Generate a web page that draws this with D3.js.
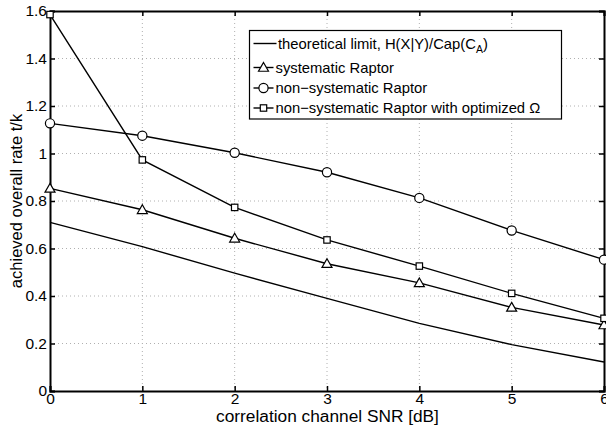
<!DOCTYPE html>
<html>
<head>
<meta charset="utf-8">
<script src="https://cdn.jsdelivr.net/npm/d3@7"></script>
<style>
  body { margin: 0; background: #fff; }
  text { font-family: "Liberation Sans", Arial, sans-serif; fill: #000; }
</style>
</head>
<body>
<script>
const WIDTH = 606;
const HEIGHT = 430;
const MARGIN = { top: 11, right: 1, bottom: 39, left: 50 };

// datos
const snr = [0, 1, 2, 3, 4, 5, 6];
const limiteTeorico = [0.710, 0.608, 0.496, 0.390, 0.285, 0.195, 0.122];
const raptorSistematico = [0.853, 0.763, 0.643, 0.536, 0.455, 0.352, 0.278];
const raptorNoSistematico = [1.127, 1.075, 1.003, 0.921, 0.813, 0.676, 0.553];
const raptorOptimizado = [1.585, 0.973, 0.773, 0.636, 0.526, 0.411, 0.306];

const xTicks = [0, 1, 2, 3, 4, 5, 6];
const yTicks = [0, 0.2, 0.4, 0.6, 0.8, 1, 1.2, 1.4, 1.6];

const series = [
    { nombre: "theoretical limit, H(X|Y)/Cap(C", sub: "A", fin: ")", valores: limiteTeorico, marca: null },
    { nombre: "systematic Raptor", valores: raptorSistematico, marca: "triangle" },
    { nombre: "non\u2212systematic Raptor", valores: raptorNoSistematico, marca: "circle" },
    { nombre: "non\u2212systematic Raptor with optimized \u03A9", valores: raptorOptimizado, marca: "square" },
];

const ancho = WIDTH - MARGIN.left - MARGIN.right;
const alto = HEIGHT - MARGIN.top - MARGIN.bottom;

const svg = d3.select("body")
    .append("svg")
    .attr("width", WIDTH)
    .attr("height", HEIGHT);

const g = svg.append("g")
    .attr("transform", `translate(${MARGIN.left} ${MARGIN.top})`);

const x = d3.scaleLinear().domain([0, 6]).range([0, ancho - 1]);
const y = d3.scaleLinear().domain([0, 1.6]).range([alto, 0]);

// grilla punteada
g.selectAll(".gx")
    .data(xTicks.slice(1, -1))
    .join("line")
    .attr("x1", (d) => x(d)).attr("x2", (d) => x(d))
    .attr("y1", 0).attr("y2", alto)
    .attr("stroke", "#b0b0b0")
    .attr("stroke-width", 1)
    .attr("stroke-dasharray", "1,3");

g.selectAll(".gy")
    .data(yTicks.slice(1, -1))
    .join("line")
    .attr("x1", 0).attr("x2", x(6))
    .attr("y1", (d) => y(d)).attr("y2", (d) => y(d))
    .attr("stroke", "#b0b0b0")
    .attr("stroke-width", 1)
    .attr("stroke-dasharray", "1,3");

// ejes con ticks hacia adentro
const ejeX = g.append("g")
    .attr("transform", `translate(0 ${alto})`)
    .call(d3.axisBottom(x).tickValues(xTicks).tickSize(-5).tickPadding(4).tickFormat(d3.format("d")));
const ejeXSup = g.append("g")
    .call(d3.axisTop(x).tickValues(xTicks).tickSize(-5).tickFormat(""));
const ejeY = g.append("g")
    .call(d3.axisLeft(y).tickValues(yTicks).tickSize(-5).tickPadding(3).tickFormat((d) => d === 0 || d === 1 ? d3.format("d")(d) : d3.format(".1f")(d)));
const ejeYDer = g.append("g")
    .attr("transform", `translate(${x(6)} 0)`)
    .call(d3.axisRight(y).tickValues(yTicks).tickSize(-5).tickFormat(""));

[ejeX, ejeXSup, ejeY, ejeYDer].forEach((e) => {
    e.select(".domain").attr("stroke", "#000").attr("stroke-width", 2);
    e.selectAll(".tick line").attr("stroke", "#000").attr("stroke-width", 1.5);
    e.selectAll("text")
        .attr("font-size", 15.5)
        .attr("fill", "#000");
});
ejeY.selectAll(".tick text").attr("dy", "0.32em");
ejeX.selectAll(".tick text").attr("dy", "0.55em");

// lineas
const linea = d3.line()
    .x((d, i) => x(snr[i]))
    .y((d) => y(d));

series.forEach((s) => {
    g.append("path")
        .datum(s.valores)
        .attr("d", linea)
        .attr("fill", "none")
        .attr("stroke", "#000")
        .attr("stroke-width", 1.4);
});

function dibujarMarca(sel, tipo, cx, cy) {
    if (tipo === "circle") {
        sel.append("circle")
            .attr("cx", cx).attr("cy", cy).attr("r", 4.6)
            .attr("fill", "#fff").attr("stroke", "#000").attr("stroke-width", 1.2);
    } else if (tipo === "square") {
        sel.append("rect")
            .attr("x", cx - 3.2).attr("y", cy - 3.2)
            .attr("width", 6.4).attr("height", 6.4)
            .attr("fill", "#fff").attr("stroke", "#000").attr("stroke-width", 1.2);
    } else if (tipo === "triangle") {
        const t = 5;
        sel.append("path")
            .attr("d", `M${cx},${cy - t} L${cx + t},${cy + t * 0.75} L${cx - t},${cy + t * 0.75} Z`)
            .attr("fill", "#fff").attr("stroke", "#000").attr("stroke-width", 1.2);
    }
}

series.filter((s) => s.marca).forEach((s) => {
    s.valores.forEach((v, i) => dibujarMarca(g, s.marca, x(snr[i]), y(v)));
});

// leyenda
const leyenda = svg.append("g").attr("transform", "translate(249.5 30.5)");
leyenda.append("rect")
    .attr("width", 312).attr("height", 88.5)
    .attr("fill", "#fff").attr("stroke", "#000").attr("stroke-width", 1.2);

const filasY = [13, 37, 57.5, 77.5];
series.forEach((s, i) => {
    const fila = leyenda.append("g").attr("transform", `translate(0 ${filasY[i]})`);
    const x0 = 4;
    const x1 = s.marca ? 24 : 27;
    fila.append("line")
        .attr("x1", x0).attr("x2", x1)
        .attr("y1", 0).attr("y2", 0)
        .attr("stroke", "#000").attr("stroke-width", 1.4);
    if (s.marca) dibujarMarca(fila, s.marca, 14, 0);
    const t = fila.append("text")
        .attr("x", s.marca ? 26 : 28.5)
        .attr("y", 0)
        .attr("dy", "0.35em")
        .attr("font-size", 14.8)
        .text(s.nombre);
    if (s.sub) {
        t.append("tspan").attr("font-size", 10.5).attr("dy", 4).text(s.sub);
        t.append("tspan").attr("dy", -4).text(s.fin);
    }
});

// titulos de ejes
svg.append("text")
    .attr("x", MARGIN.left + ancho / 2)
    .attr("y", 422)
    .attr("text-anchor", "middle")
    .attr("font-size", 17.3)
    .text("correlation channel SNR [dB]");

svg.append("text")
    .attr("transform", `translate(22 ${MARGIN.top + alto / 2}) rotate(-90)`)
    .attr("text-anchor", "middle")
    .attr("font-size", 16.5)
    .text("achieved overall rate t/k");
</script>
</body>
</html>
